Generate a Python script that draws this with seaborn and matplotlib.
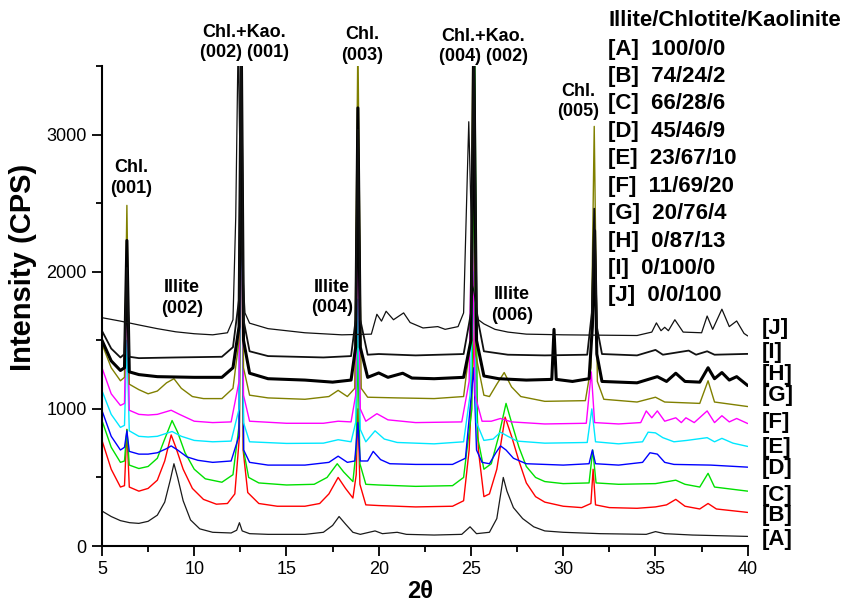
import matplotlib
matplotlib.use("Agg")
import matplotlib.pyplot as plt
import seaborn as sns
import pandas as pd
from matplotlib.ticker import MultipleLocator

# XRD patterns (2-theta, intensity in CPS) for illite/chlorite/kaolinite mixtures
trace_A = [(5.0,255),(5.5,215),(6.0,185),(6.5,170),(7.0,165),(7.5,180),(8.0,225),(8.4,320),(8.7,480),
           (8.9,600),(9.1,500),(9.4,330),(9.8,190),(10.3,125),(11.0,100),(12.0,95),(12.3,115),(12.45,170),
           (12.6,110),(13.0,90),(14.0,85),(16.0,85),(17.0,100),(17.5,150),(17.85,215),(18.2,160),(18.6,100),
           (19.0,85),(19.8,110),(20.2,90),(21.0,100),(21.5,85),(23.0,80),(24.5,85),(24.95,140),(25.3,90),
           (26.0,100),(26.4,200),(26.75,500),(26.95,400),(27.3,280),(27.8,200),(28.4,140),(29.0,110),
           (30.0,100),(32.0,90),(34.5,85),(35.0,105),(35.5,90),(37.0,80),(38.5,75),(40.0,70)]

trace_B = [(5.0,770),(5.5,560),(6.0,430),(6.22,440),(6.35,850),(6.48,430),(7.0,400),(7.5,420),(8.0,480),
           (8.4,620),(8.75,810),(9.0,720),(9.4,560),(9.9,420),(10.5,340),(11.2,305),(11.8,310),(12.2,380),
           (12.45,800),(12.55,3700),(12.65,700),(12.9,390),(13.5,310),(14.5,290),(16.0,290),(16.8,310),
           (17.3,380),(17.8,500),(18.2,420),(18.6,350),(18.78,520),(18.87,1000),(18.98,450),(19.3,300),
           (20.0,295),(22.0,285),(24.0,290),(24.6,330),(24.9,700),(25.2,1600),(25.4,700),(25.7,360),
           (26.0,380),(26.4,560),(26.85,940),(27.2,800),(27.6,620),(28.0,460),(28.5,360),(29.0,320),
           (30.0,290),(31.0,280),(31.5,310),(31.62,560),(31.75,300),(32.5,280),(34.0,275),(35.0,285),
           (35.6,300),(36.1,340),(36.6,290),(37.4,270),(37.85,310),(38.3,270),(40.0,245)]

trace_C = [(5.0,915),(5.5,720),(6.0,610),(6.22,620),(6.35,850),(6.48,590),(7.0,565),(7.5,580),(8.0,640),
           (8.4,780),(8.8,915),(9.1,830),(9.5,680),(10.0,560),(10.6,490),(11.5,465),(12.1,520),(12.45,900),
           (12.55,3700),(12.67,700),(12.95,500),(13.5,460),(15.0,445),(16.5,450),(17.2,500),(17.75,600),
           (18.1,540),(18.6,470),(18.78,700),(18.87,1500),(18.98,600),(19.3,450),(20.0,445),(22.0,435),
           (24.0,440),(24.6,500),(25.05,1000),(25.2,3700),(25.35,800),(25.7,560),(26.1,600),(26.5,800),
           (26.9,1040),(27.2,900),(27.6,720),(28.0,580),(28.5,500),(29.0,470),(30.0,455),(31.4,460),
           (31.6,700),(31.78,460),(33.0,450),(35.0,455),(36.1,480),(36.6,450),(37.4,430),(37.85,530),
           (38.2,430),(40.0,400)]

trace_D = [(5.0,988),(5.5,800),(6.0,700),(6.22,720),(6.35,840),(6.48,690),(7.0,670),(7.5,670),(8.0,680),
           (8.5,710),(8.75,730),(9.1,700),(9.6,650),(10.2,625),(11.0,610),(12.0,620),(12.42,800),(12.55,3000),
           (12.68,700),(13.0,610),(14.0,590),(16.0,590),(17.3,610),(17.8,655),(18.3,610),(18.7,620),
           (18.87,900),(19.0,620),(19.4,620),(19.7,690),(20.1,630),(20.6,600),(22.0,595),(24.0,595),
           (24.7,640),(24.95,1000),(25.15,1300),(25.3,700),(25.6,610),(26.0,600),(26.35,680),(26.6,730),
           (26.9,700),(27.3,640),(28.0,600),(30.0,590),(31.4,600),(31.58,700),(31.75,600),(33.0,590),
           (34.3,610),(34.7,680),(35.1,670),(35.5,610),(36.0,595),(38.0,590),(40.0,575)]

trace_E = [(5.0,1133),(5.5,960),(6.0,865),(6.22,880),(6.35,1500),(6.48,840),(7.0,800),(7.5,795),(8.0,800),
           (8.8,835),(9.3,800),(10.0,770),(11.0,760),(12.0,765),(12.43,1000),(12.55,3700),(12.67,900),
           (13.0,760),(15.0,748),(17.0,750),(17.8,775),(18.5,760),(18.75,900),(18.87,1800),(19.0,850),
           (19.3,760),(19.8,840),(20.3,780),(21.0,755),(23.0,745),(24.6,760),(24.95,1100),(25.15,2000),
           (25.3,900),(25.7,770),(26.2,780),(26.6,830),(27.0,800),(27.5,765),(29.0,750),(31.3,755),
           (31.55,1000),(31.75,760),(33.0,745),(34.3,760),(34.6,830),(35.0,825),(35.4,790),(36.0,760),
           (36.7,770),(37.8,790),(38.2,760),(38.6,785),(39.2,750),(40.0,726)]

trace_F = [(5.0,1300),(5.5,1110),(6.0,1025),(6.22,1040),(6.35,2000),(6.48,990),(7.0,960),(7.5,955),
           (8.0,960),(8.75,990),(9.2,960),(10.0,910),(11.0,900),(12.0,905),(12.43,1200),(12.55,3700),
           (12.67,1100),(13.0,910),(15.0,895),(17.0,895),(17.8,910),(18.5,905),(18.75,1100),(18.87,2500),
           (19.0,1000),(19.3,910),(19.9,965),(20.5,920),(22.0,900),(24.5,905),(24.9,1200),(25.05,2500),
           (25.22,1100),(25.6,910),(26.1,910),(26.6,930),(27.2,905),(29.0,890),(31.25,895),(31.52,1270),
           (31.7,900),(33.0,890),(34.2,900),(34.5,985),(34.8,935),(35.1,985),(35.5,910),(36.1,935),
           (36.4,900),(36.65,935),(37.1,900),(37.8,985),(38.2,900),(38.6,950),(39.0,905),(39.4,930),
           (40.0,893)]

trace_G = [(5.0,1474),(5.5,1300),(6.0,1205),(6.22,1230),(6.35,2484),(6.48,1180),(7.0,1140),(7.5,1110),
           (8.0,1130),(8.5,1190),(8.9,1220),(9.3,1150),(9.9,1090),(10.5,1075),(11.5,1075),(12.1,1150),
           (12.43,1500),(12.55,3700),(12.67,1300),(13.0,1100),(14.0,1080),(16.0,1070),(17.3,1090),
           (17.8,1135),(18.3,1090),(18.7,1150),(18.87,3700),(19.05,1150),(19.4,1085),(21.0,1080),
           (23.0,1075),(24.6,1090),(24.98,1500),(25.1,3700),(25.25,1400),(25.7,1100),(26.0,1090),
           (26.4,1180),(26.8,1265),(27.2,1160),(27.7,1090),(29.0,1055),(31.2,1060),(31.5,1300),
           (31.68,3060),(31.85,1200),(32.2,1070),(34.0,1050),(35.0,1085),(35.5,1050),(37.4,1040),
           (37.85,1205),(38.2,1050),(40.0,1017)]

trace_H = [(5.0,1500),(5.5,1350),(6.0,1280),(6.22,1300),(6.35,2228),(6.48,1270),(7.0,1250),(8.0,1235),
           (10.0,1230),(11.5,1230),(12.1,1300),(12.43,1600),(12.55,3700),(12.67,1500),(13.0,1260),
           (14.0,1220),(16.0,1210),(17.5,1195),(18.5,1210),(18.75,1450),(18.87,3195),(19.0,1450),
           (19.4,1230),(20.0,1262),(20.5,1230),(21.3,1260),(21.8,1225),(23.0,1220),(24.6,1230),
           (25.0,1500),(25.15,3700),(25.3,1500),(25.7,1240),(26.5,1220),(28.0,1210),(29.38,1215),
           (29.5,1580),(29.62,1215),(30.5,1200),(31.4,1220),(31.58,1600),(31.7,2300),(31.82,1400),
           (32.1,1200),(34.0,1190),(35.1,1235),(35.6,1200),(36.1,1260),(36.6,1200),(37.4,1195),
           (37.85,1300),(38.2,1220),(38.6,1265),(39.0,1210),(39.4,1235),(40.0,1170)]

trace_I = [(5.0,1569),(5.5,1440),(6.0,1375),(6.22,1400),(6.35,2028),(6.48,1380),(7.0,1370),(9.0,1375),
           (11.5,1380),(12.1,1450),(12.43,1800),(12.55,3700),(12.67,1650),(13.0,1420),(14.0,1385),
           (17.0,1375),(18.5,1385),(18.75,1650),(18.87,3035),(19.0,1650),(19.4,1395),(20.0,1400),
           (22.0,1390),(24.6,1400),(25.0,1700),(25.15,3700),(25.3,1700),(25.7,1420),(27.0,1395),
           (29.0,1390),(31.3,1395),(31.55,1700),(31.68,2460),(31.82,1600),(32.1,1400),(34.0,1390),
           (35.0,1430),(35.4,1395),(36.8,1425),(37.2,1395),(37.8,1420),(38.2,1395),(40.0,1401)]

trace_J = [(5.0,1665),(6.0,1640),(7.0,1612),(8.0,1585),(9.0,1562),(10.0,1548),(11.0,1540),(11.8,1555),
           (12.1,1650),(12.25,2400),(12.38,3700),(12.55,2200),(12.75,1700),(13.0,1625),(14.0,1585),
           (16.0,1555),(18.0,1540),(19.6,1545),(19.9,1690),(20.15,1640),(20.4,1712),(20.8,1650),
           (21.35,1700),(21.7,1630),(22.4,1590),(23.2,1600),(23.6,1580),(24.3,1600),(24.6,1700),
           (24.88,3094),(25.1,1900),(25.4,1650),(25.7,1620),(26.3,1580),(27.0,1560),(28.0,1545),
           (30.0,1540),(34.0,1535),(34.8,1560),(35.05,1627),(35.3,1570),(35.5,1595),(35.7,1570),
           (36.05,1650),(36.5,1560),(37.5,1555),(37.8,1677),(38.1,1580),(38.6,1727),(39.0,1600),
           (39.4,1641),(39.8,1550),(40.0,1532)]

sample_names = ["A", "B", "C", "D", "E", "F", "G", "H", "I", "J"]
compositions = ["100/0/0", "74/24/2", "66/28/6", "45/46/9", "23/67/10",
                "11/69/20", "20/76/4", "0/87/13", "0/100/0", "0/0/100"]
traces = [trace_A, trace_B, trace_C, trace_D, trace_E,
          trace_F, trace_G, trace_H, trace_I, trace_J]

peak_labels = ["Chl.\n(001)", "Illite\n(002)", "Chl.+Kao.\n(002) (001)", "Illite\n(004)",
               "Chl.\n(003)", "Chl.+Kao.\n(004) (002)", "Illite\n(006)", "Chl.\n(005)"]

# styling
colors = ["#1a1a1a", "#ff0000", "#00e000", "#0000ff", "#00e8ff",
          "#ff00ff", "#808000", "#000000", "#111111", "#111111"]
widths = [0.9, 1.0, 1.0, 1.0, 1.0, 1.0, 1.0, 2.2, 1.3, 0.9]
peak_label_xy = [(6.59, 2683), (9.35, 1808), (12.72, 3671), (17.48, 1812),
                 (19.10, 3653), (25.66, 3642), (27.23, 1757), (30.81, 3239)]
end_label_y = [51, 225, 370, 566, 719, 900, 1097, 1249, 1409, 1583]

sns.set_theme(style="ticks")
plt.rcParams["font.family"] = ["Liberation Sans", "DejaVu Sans"]

fig = plt.figure(figsize=(8.47, 6.06), dpi=100)
ax = fig.add_axes([0.1204, 0.099, 0.7624, 0.792])

for name, pts, c, lw in zip(sample_names, traces, colors, widths):
    df = pd.DataFrame(pts, columns=["two_theta", "intensity"])
    sns.lineplot(data=df, x="two_theta", y="intensity", ax=ax, color=c, lw=lw,
                 estimator=None, sort=False, legend=False)

ax.set_xlim(5, 40)
ax.set_ylim(0, 3500)
ax.set_xticks(range(5, 41, 5))
ax.set_yticks([0, 1000, 2000, 3000])
ax.xaxis.set_minor_locator(MultipleLocator(2.5))
ax.yaxis.set_minor_locator(MultipleLocator(500))
ax.tick_params(which="major", length=7, width=1.3, labelsize=13, direction="out",
               color="black", labelcolor="black", pad=4)
ax.tick_params(which="minor", length=4, width=1.3, direction="out", color="black")
sns.despine(ax=ax)
for s in ("left", "bottom"):
    ax.spines[s].set_linewidth(1.5)
    ax.spines[s].set_color("black")

ax.set_xlabel("2θ", fontsize=17, fontweight="bold", color="black")
ax.xaxis.set_label_coords(0.492, -0.071)
ax.set_ylabel("Intensity (CPS)", fontsize=21, fontweight="bold", color="black")
ax.yaxis.set_label_coords(-0.100, 0.58)

for txt, (x, y) in zip(peak_labels, peak_label_xy):
    ax.text(x, y, txt, ha="center", va="center", fontsize=13, fontweight="bold",
            linespacing=1.25, clip_on=False, color="black")

ax.text(32.43, 3834, "Illite/Chlotite/Kaolinite", ha="left", va="center",
        fontsize=16, fontweight="bold", clip_on=False, color="black")
for i, (name, comp) in enumerate(zip(sample_names, compositions)):
    ax.text(32.43, 3624 - 200 * i, f"[{name}]  {comp}", ha="left", va="center",
            fontsize=16, fontweight="bold", clip_on=False, color="black")

for name, y in zip(sample_names, end_label_y):
    ax.text(40.76, y, f"[{name}]", ha="left", va="center", fontsize=16,
            fontweight="bold", clip_on=False, color="black")

fig.savefig("out.png", dpi=100)
